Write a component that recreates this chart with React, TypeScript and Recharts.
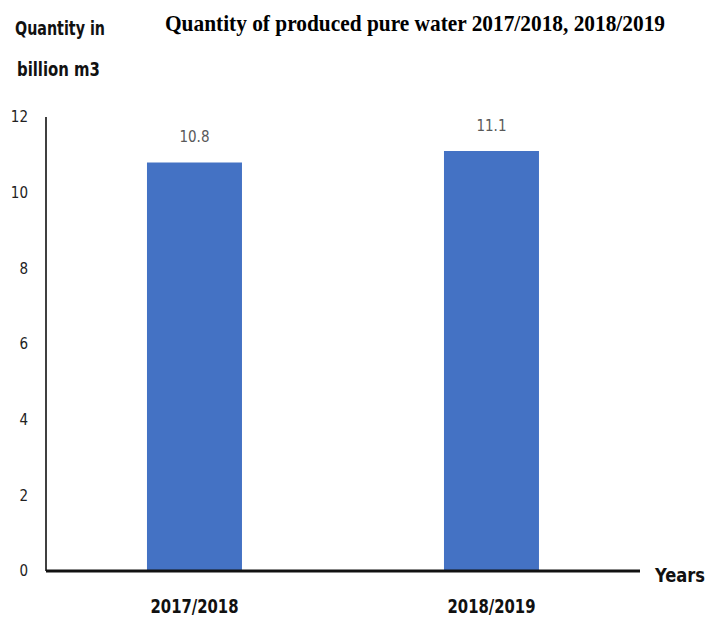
import { Bar, BarChart, LabelList, XAxis, YAxis } from 'recharts';

const years = ['2017/2018', '2018/2019'];
const quantity = [10.8, 11.1];
const yTicks = [0, 2, 4, 6, 8, 10, 12];

const data = years.map((name, i) => ({ name, value: quantity[i] }));

const narrow = "'Liberation Sans Narrow', 'DejaVu Sans Condensed', sans-serif";

// condensed bold category labels, squeezed to the reference width
const YearTick = (props: any) => {
  const { x, y, payload } = props;
  return (
    <text
      x={x}
      y={y}
      dy={14}
      textAnchor="middle"
      fill="#111"
      fontSize={19}
      fontWeight="bold"
      fontFamily={narrow}
      textLength={88}
      lengthAdjust="spacingAndGlyphs"
    >
      {payload.value}
    </text>
  );
};

const App = () => {
  return (
    <div style={{ position: 'relative', width: 708, height: 616 }}>
      <BarChart
        width={708}
        height={616}
        data={data}
        margin={{ top: 109, right: 76, bottom: 13, left: 8 }}
        barCategoryGap="34%"
      >
        <YAxis
          width={30}
          domain={[0, 12]}
          ticks={yTicks}
          interval={0}
          tickLine={false}
          axisLine={{ stroke: '#404040', strokeWidth: 2 }}
          tickMargin={12}
          tick={{ fill: '#222', fontSize: 15, fontFamily: narrow }}
        />
        <XAxis
          dataKey="name"
          height={40}
          tickLine={false}
          axisLine={{ stroke: '#111', strokeWidth: 3 }}
          tickMargin={22}
          tick={<YearTick />}
        />
        <Bar dataKey="value" fill="#4472c4" isAnimationActive={false}>
          <LabelList
            dataKey="value"
            position="top"
            offset={20}
            fill="#595959"
            fontSize={15}
            fontFamily={narrow}
          />
        </Bar>
      </BarChart>
      <svg
        width={708}
        height={616}
        style={{ position: 'absolute', left: 0, top: 0, pointerEvents: 'none' }}
      >
        <text
          x={157}
          y={23}
          fontFamily="'Liberation Serif', serif"
          fontWeight="bold"
          fontSize={23}
          fill="#000"
          textLength={500}
          lengthAdjust="spacingAndGlyphs"
        >
          Quantity of produced pure water  2017/2018, 2018/2019
        </text>
        <text
          x={7}
          y={27}
          fontFamily={narrow}
          fontWeight="bold"
          fontSize={19}
          fill="#111"
          textLength={90}
          lengthAdjust="spacingAndGlyphs"
        >
          Quantity in
        </text>
        <text
          x={9}
          y={68}
          fontFamily={narrow}
          fontWeight="bold"
          fontSize={19}
          fill="#111"
          textLength={83}
          lengthAdjust="spacingAndGlyphs"
        >
          billion m3
        </text>
        <text
          x={647}
          y={574}
          fontFamily={narrow}
          fontWeight="bold"
          fontSize={20}
          fill="#111"
          textLength={50}
          lengthAdjust="spacingAndGlyphs"
        >
          Years
        </text>
      </svg>
    </div>
  );
};

export default App;
